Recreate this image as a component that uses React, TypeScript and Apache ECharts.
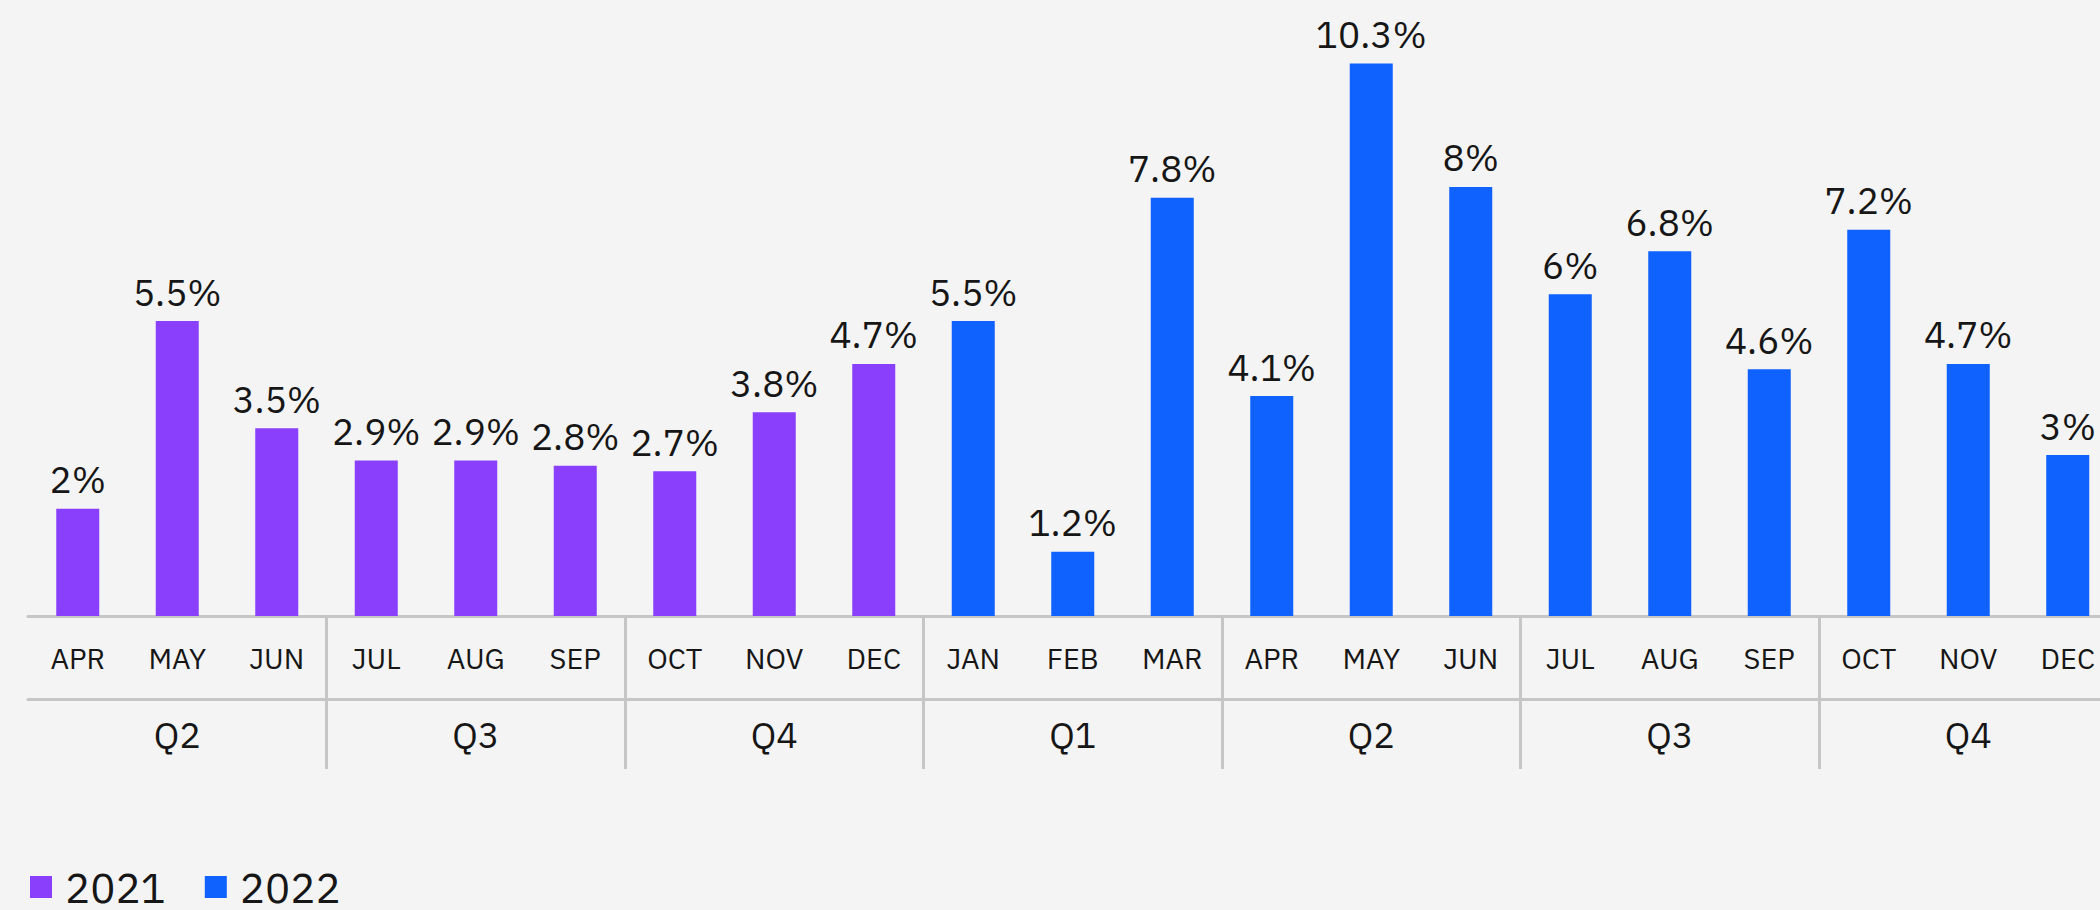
import React, { useEffect, useRef } from "react";
import * as echarts from "echarts";

const months2021 = ["APR", "MAY", "JUN", "JUL", "AUG", "SEP", "OCT", "NOV", "DEC"];
const months2022 = ["JAN", "FEB", "MAR", "APR", "MAY", "JUN", "JUL", "AUG", "SEP", "OCT", "NOV", "DEC"];
const quarters = ["Q2", "Q3", "Q4", "Q1", "Q2", "Q3", "Q4"];
const values2021 = [2, 5.5, 3.5, 2.9, 2.9, 2.8, 2.7, 3.8, 4.7];
const values2022 = [5.5, 1.2, 7.8, 4.1, 10.3, 8, 6, 6.8, 4.6, 7.2, 4.7, 3];
const seriesNames = ["2021", "2022"];

const FONT = "'IBM Plex Sans', 'Noto Sans', sans-serif";
const TEXT = "#161616";
const LINE = "#c6c6c6";

export default function App() {
  const ref = useRef<HTMLDivElement>(null);
  useEffect(() => {
    document.body.style.margin = "0";
    document.body.style.overflow = "hidden";
    document.documentElement.style.overflow = "hidden";
    document.body.style.background = "#f4f4f4";
    const chart = echarts.init(ref.current!, null, { renderer: "svg" });
    const categories = [...months2021, ...months2022];
    const n21 = months2021.length;
    const d2021 = categories.map((_, i) => (i < n21 ? values2021[i] : null));
    const d2022 = categories.map((_, i) => (i >= n21 ? values2022[i - n21] : null));
    const label = {
      show: true,
      position: "top",
      distance: 11,
      color: TEXT,
      fontSize: 37,
      fontFamily: FONT,
      formatter: (p: any) => `${p.value}%`,
    };
    chart.setOption({
      animation: false,
      backgroundColor: "#f4f4f4",
      textStyle: { fontFamily: FONT, color: TEXT },
      legend: {
        data: seriesNames,
        left: 25,
        top: 861,
        icon: "rect",
        itemWidth: 22,
        itemHeight: 22,
        itemGap: 39,
        textStyle: {
          fontSize: 42,
          lineHeight: 40,
          color: TEXT,
          fontFamily: FONT,
          padding: [0, 0, 0, 8],
        },
      },
      grid: { left: 28, top: 26, width: 2089.5, height: 590, containLabel: false },
      xAxis: [
        {
          type: "category",
          data: categories,
          position: "bottom",
          axisLine: { show: true, lineStyle: { color: LINE, width: 3 } },
          axisTick: {
            show: true,
            length: 153,
            lineStyle: { color: LINE, width: 3 },
            interval: (i: number) => i % 3 === 0 && i !== 0,
          },
          axisLabel: { color: TEXT, fontSize: 29, fontFamily: FONT, margin: 27, interval: 0 },
        },
        {
          type: "category",
          data: quarters,
          position: "bottom",
          offset: 83,
          axisLine: { show: true, lineStyle: { color: LINE, width: 3 } },
          axisTick: { show: false },
          axisLabel: { color: TEXT, fontSize: 36, fontFamily: FONT, margin: 17, interval: 0 },
        },
      ],
      yAxis: { type: "value", min: 0, max: 11, show: false, splitLine: { show: false } },
      series: [
        {
          name: seriesNames[0],
          type: "bar",
          data: d2021,
          barWidth: 43,
          barGap: "-100%",
          itemStyle: { color: "#8a3ffc" },
          label,
        },
        {
          name: seriesNames[1],
          type: "bar",
          data: d2022,
          barWidth: 43,
          barGap: "-100%",
          itemStyle: { color: "#0f62fe" },
          label,
        },
      ],
    });
    return () => chart.dispose();
  }, []);
  return (
    <div
      style={{
        position: "absolute",
        left: 0,
        top: 0,
        width: 2100,
        height: 910,
        overflow: "hidden",
        background: "#f4f4f4",
      }}
    >
      <div ref={ref} style={{ width: 2120, height: 910 }} />
    </div>
  );
}
